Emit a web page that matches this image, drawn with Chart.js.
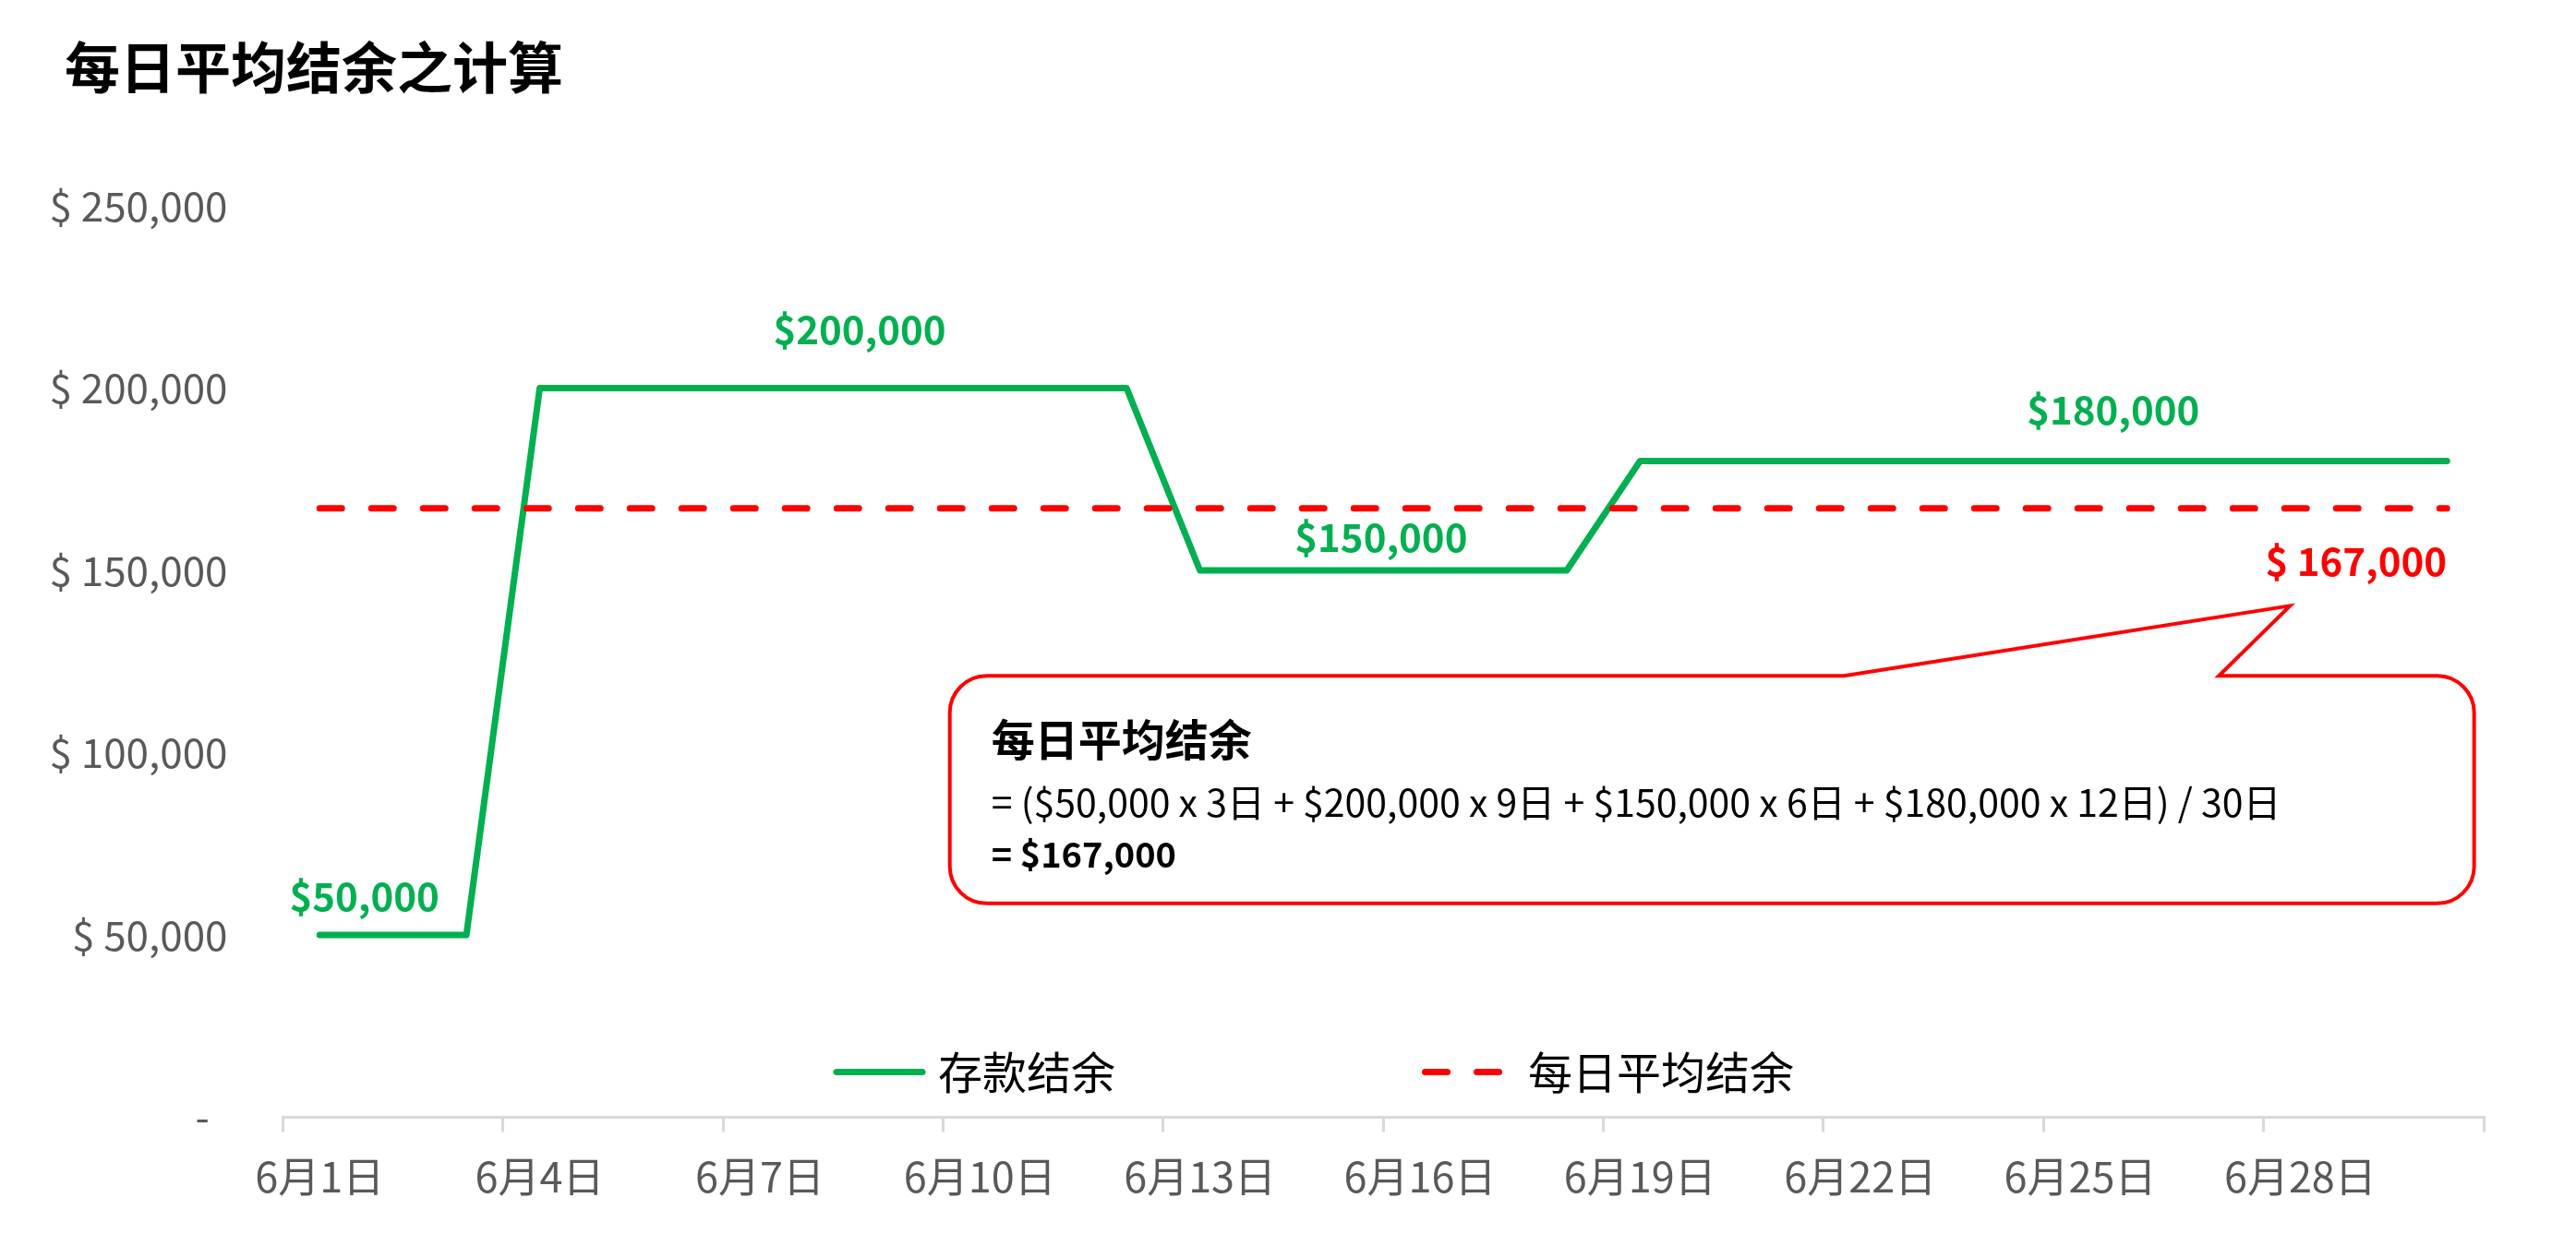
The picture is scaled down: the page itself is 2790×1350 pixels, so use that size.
<!DOCTYPE html>
<html>
<head>
<meta charset="utf-8">
<script src="https://cdn.jsdelivr.net/npm/chart.js@4.4.1/dist/chart.umd.min.js"></script>
<style>
html,body{margin:0;padding:0;background:#ffffff;}
canvas{display:block;}
</style>
</head>
<body>
<canvas id="chart" width="2790" height="1350"></canvas>
<script>
// ---------- data ----------
const chartTitle = '每日平均结余之计算';
const categories = ['6月1日','6月2日','6月3日','6月4日','6月5日','6月6日','6月7日','6月8日','6月9日','6月10日',
                    '6月11日','6月12日','6月13日','6月14日','6月15日','6月16日','6月17日','6月18日','6月19日','6月20日',
                    '6月21日','6月22日','6月23日','6月24日','6月25日','6月26日','6月27日','6月28日','6月29日','6月30日'];
const balance = [50000,50000,50000,
                 200000,200000,200000,200000,200000,200000,200000,200000,200000,
                 150000,150000,150000,150000,150000,150000,
                 180000,180000,180000,180000,180000,180000,180000,180000,180000,180000,180000,180000];
const averageDays = ['6月1日','6月30日'];
const averageValue = [167000,167000];
const yTicks = [0,50000,100000,150000,200000,250000];
const seriesNames = ['存款结余','每日平均结余'];
const valueLabels = ['$50,000','$200,000','$150,000','$180,000'];
const averageLabel = '$ 167,000';
const calloutLines = ['每日平均结余',
  '= ($50,000 x 3日 + $200,000 x 9日 + $150,000 x 6日 + $180,000 x 12日) / 30日',
  '= $167,000'];

// ---------- layout / style (annotation positions in scale units) ----------
const FONT = '"Noto Sans CJK SC", "Noto Sans", sans-serif';
const GREEN = '#00B050';
const RED = '#FF0000';
const GREY = '#595959';
const valueLabelPos = [{i:0.61, v:60600},{i:7.36, v:216100},{i:14.47, v:159000},{i:24.45, v:194100}];
const averageLabelPos = {i:27.76, v:152400};
const calloutPos = {left:8.59, right:29.37, top:121060, bottom:58620,
                    baseL:20.78, baseR:25.89, tipI:26.86, tipV:140270};
const legendPos = {y:-49, items:[{x:906, len:93, textX:1016}, {x:1543.5, len:80, textX:1655}]};
const titlePos = {x:70, y:73};

function fmtMoney(v){ return v.toLocaleString('en-US'); }

const overlay = {
  id:'overlay',
  afterDatasetsDraw(chart){
    const ctx = chart.ctx;
    const xs = chart.scales.x, ys = chart.scales.y;
    const x0 = xs.getPixelForValue(0), step = xs.getPixelForValue(1) - x0;
    const px = i => x0 + i*step;
    const py = v => ys.getPixelForValue(v);
    ctx.save();
    // title
    ctx.textAlign = 'left';
    ctx.textBaseline = 'middle';
    ctx.fillStyle = '#000000';
    ctx.font = 'bold 60px ' + FONT;
    ctx.fillText(chartTitle, titlePos.x, titlePos.y);

    // value labels
    ctx.textAlign = 'center';
    ctx.font = 'bold 42px ' + FONT;
    ctx.fillStyle = GREEN;
    valueLabels.forEach((t,k)=>{ ctx.fillText(t, px(valueLabelPos[k].i), py(valueLabelPos[k].v)); });
    ctx.fillStyle = RED;
    ctx.fillText(averageLabel, px(averageLabelPos.i), py(averageLabelPos.v));

    // callout
    const L = px(calloutPos.left), R = px(calloutPos.right), T = py(calloutPos.top), B = py(calloutPos.bottom);
    const r = 40;
    ctx.beginPath();
    ctx.moveTo(L + r, T);
    ctx.lineTo(px(calloutPos.baseL), T);
    ctx.lineTo(px(calloutPos.tipI), py(calloutPos.tipV));
    ctx.lineTo(px(calloutPos.baseR), T);
    ctx.lineTo(R - r, T);
    ctx.arcTo(R, T, R, T + r, r);
    ctx.lineTo(R, B - r);
    ctx.arcTo(R, B, R - r, B, r);
    ctx.lineTo(L + r, B);
    ctx.arcTo(L, B, L, B - r, r);
    ctx.lineTo(L, T + r);
    ctx.arcTo(L, T, L + r, T, r);
    ctx.closePath();
    ctx.fillStyle = '#ffffff';
    ctx.fill();
    ctx.lineWidth = 4;
    ctx.strokeStyle = RED;
    ctx.lineJoin = 'miter';
    ctx.stroke();

    ctx.textAlign = 'left';
    ctx.fillStyle = '#000000';
    ctx.font = 'bold 47px ' + FONT;
    ctx.fillText(calloutLines[0], L + 45, T + 69);
    ctx.font = '41px ' + FONT;
    ctx.fillText(calloutLines[1], L + 45, T + 137);
    ctx.font = 'bold 38px ' + FONT;
    ctx.fillText(calloutLines[2], L + 45, T + 193);

    // legend
    const ly = chart.chartArea.bottom + legendPos.y;
    chart.data.datasets.forEach((ds, k)=>{
      const it = legendPos.items[k];
      ctx.beginPath();
      ctx.lineWidth = ds.borderWidth;
      ctx.strokeStyle = ds.borderColor;
      ctx.lineCap = 'round';
      ctx.setLineDash(ds.borderDash || []);
      ctx.moveTo(it.x, ly);
      ctx.lineTo(it.x + it.len, ly);
      ctx.stroke();
      ctx.setLineDash([]);
      ctx.fillStyle = '#000000';
      ctx.font = '48px ' + FONT;
      ctx.textAlign = 'left';
      ctx.fillText(ds.label, it.textX, ly);
    });
    ctx.restore();
  }
};

function build(){
  new Chart(document.getElementById('chart'), {
    type:'line',
    data:{
      labels: categories,
      datasets:[
        {label: seriesNames[0], data: balance, borderColor: GREEN, backgroundColor: GREEN,
         borderWidth: 7, pointRadius: 0, tension: 0, borderCapStyle:'round', borderJoinStyle:'round', order: 1},
        {label: seriesNames[1], data: averageDays.map((d,k)=>({x:d, y:averageValue[k]})),
         borderColor: RED, backgroundColor: RED, borderWidth: 7, borderDash:[24,32],
         pointRadius: 0, tension: 0, borderCapStyle:'round', order: 0}
      ]
    },
    options:{
      responsive:false, animation:false, devicePixelRatio:1,
      layout:{padding:{left:30, right:100, top:223, bottom:25.6}},
      plugins:{
        legend:{display:false},
        tooltip:{enabled:false},
        title:{display:false}
      },
      scales:{
        x:{
          type:'category', offset:true,
          grid:{display:true, drawOnChartArea:false, drawTicks:true, tickLength:16, offset:true, lineWidth:3,
                color: c => (c.index === undefined || c.index % 3 === 0) ? '#D9D9D9' : 'rgba(0,0,0,0)'},
          border:{display:true, color:'#D9D9D9', width:3},
          ticks:{autoSkip:false, maxRotation:0, minRotation:0, padding:22, color:GREY,
                 font:{family:FONT, size:45},
                 callback:(v,i)=> (i % 3 === 0 ? categories[i] : '')}
        },
        y:{
          min:0, max:250000,
          afterBuildTicks: s => { s.ticks = yTicks.map(v=>({value:v})); },
          afterFit: s => { s.width = 276.5; },
          grid:{display:false}, border:{display:false},
          ticks:{padding:52, color:GREY, font:{family:FONT, size:44},
                 callback: v => (v === 0 ? '-  ' : '$ ' + fmtMoney(v))}
        }
      }
    },
    plugins:[overlay]
  });
}

if (document.fonts && document.fonts.load) {
  Promise.all([
    document.fonts.load('45px "Noto Sans CJK SC"'),
    document.fonts.load('bold 45px "Noto Sans CJK SC"')
  ]).then(build, build);
} else { build(); }
</script>
</body>
</html>
